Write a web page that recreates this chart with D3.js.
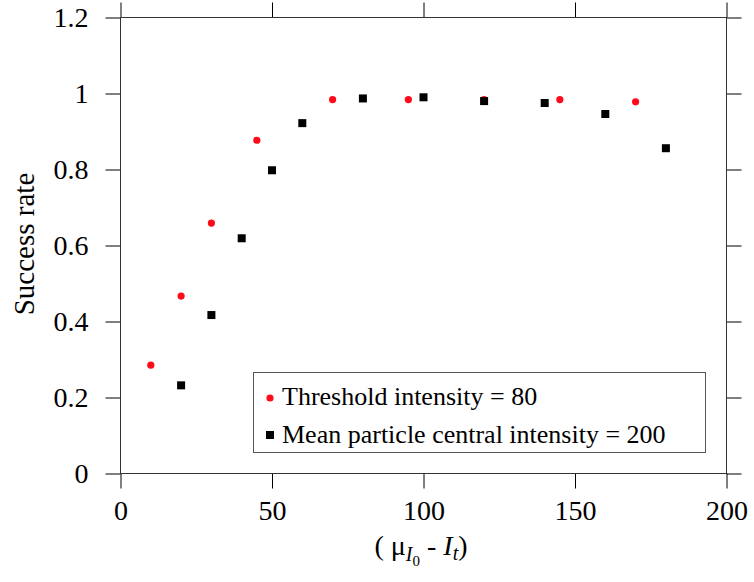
<!DOCTYPE html>
<html><head><meta charset="utf-8">
<script src="https://cdn.jsdelivr.net/npm/d3@7"></script>
</head><body>
<script>
const redX = [10, 20, 30, 45, 70, 95, 120, 145, 170];
const redY = [0.285, 0.467, 0.659, 0.877, 0.984, 0.984, 0.984, 0.984, 0.978];
const blackX = [20, 30, 40, 50, 60, 80, 100, 120, 140, 160, 180];
const blackY = [0.232, 0.417, 0.619, 0.798, 0.922, 0.987, 0.990, 0.980, 0.975, 0.946, 0.856];
const xTicks = [0, 50, 100, 150, 200];
const yTicks = [0, 0.2, 0.4, 0.6, 0.8, 1, 1.2];
const legendLabels = ["Threshold intensity = 80", "Mean particle central intensity = 200"];

const FF = "'Liberation Serif'";
document.body.style.margin = "0";
const m = {l: 120.5, r: 726.5, t: 17.5, b: 473.5};
const svg = d3.select("body").append("svg").attr("width", 754).attr("height", 582);
const x = d3.scaleLinear().domain([0, 200]).range([m.l, m.r]);
const y = d3.scaleLinear().domain([0, 1.2]).range([m.b, m.t]);

const fmt = d => d === 0 ? "0" : (d === 1 ? "1" : d3.format(".1f")(d));
const tl = 15;
const gb = svg.append("g").attr("transform", `translate(0,${m.b})`)
  .call(d3.axisBottom(x).tickValues(xTicks).tickSize(tl).tickPadding(10).tickFormat(d3.format("d")));
const gt = svg.append("g").attr("transform", `translate(0,${m.t})`)
  .call(d3.axisTop(x).tickValues(xTicks).tickSize(tl).tickFormat(""));
const gl = svg.append("g").attr("transform", `translate(${m.l},0)`)
  .call(d3.axisLeft(y).tickValues(yTicks).tickSize(tl).tickPadding(17).tickFormat(fmt));
const gr = svg.append("g").attr("transform", `translate(${m.r},0)`)
  .call(d3.axisRight(y).tickValues(yTicks).tickSize(tl).tickFormat(""));
[gb, gt, gl, gr].forEach(g => {
  g.select(".domain").remove();
  g.selectAll("line").attr("stroke", "#000").attr("stroke-width", 1);
  g.selectAll("text").style("font-family", FF).style("font-size", "28px");
});
gb.selectAll("text").attr("dy", "0.71em").attr("y", 27);
svg.append("rect").attr("x", m.l).attr("y", m.t).attr("width", m.r - m.l).attr("height", m.b - m.t)
  .attr("fill", "none").attr("stroke", "#333").attr("stroke-width", 1);

// points
svg.append("g").selectAll("circle").data(redX).join("circle")
  .attr("cx", d => x(d)).attr("cy", (d, i) => y(redY[i])).attr("r", 3.6).attr("fill", "#ff0a1a");
svg.append("g").selectAll("rect").data(blackX).join("rect")
  .attr("x", d => x(d) - 4).attr("y", (d, i) => y(blackY[i]) - 4).attr("width", 8).attr("height", 8).attr("fill", "#000");

// legend
const lg = svg.append("g");
lg.append("rect").attr("x", 253.5).attr("y", 372.5).attr("width", 452).attr("height", 80)
  .attr("fill", "#fff").attr("stroke", "#555").attr("stroke-width", 1);
lg.append("circle").attr("cx", 270).attr("cy", 398).attr("r", 3.6).attr("fill", "#ff0a1a");
lg.append("rect").attr("x", 266).attr("y", 431).attr("width", 8).attr("height", 8).attr("fill", "#000");
legendLabels.forEach((t, i) => {
  lg.append("text").attr("x", 282).attr("y", 405 + i * 38)
    .style("font-family", FF).style("font-size", "26px").text(t);
});

// y label
svg.append("text").attr("transform", "translate(34,244) rotate(-90)").attr("text-anchor", "middle")
  .style("font-family", FF).style("font-size", "29px").text("Success rate");

// x label
const xl = svg.append("text").attr("x", 421).attr("y", 555).attr("text-anchor", "middle")
  .style("font-family", FF).style("font-size", "28px");
xl.append("tspan").text("( μ");
xl.append("tspan").style("font-style", "italic").style("font-size", "20px").attr("dy", 6).text("I");
xl.append("tspan").style("font-size", "15px").attr("dy", 5).text("0");
xl.append("tspan").attr("dy", -11).text(" - ");
xl.append("tspan").style("font-style", "italic").text("I");
xl.append("tspan").style("font-style", "italic").style("font-size", "20px").attr("dy", 5).text("t");
xl.append("tspan").attr("dy", -5).text(")");
</script>
</body></html>
